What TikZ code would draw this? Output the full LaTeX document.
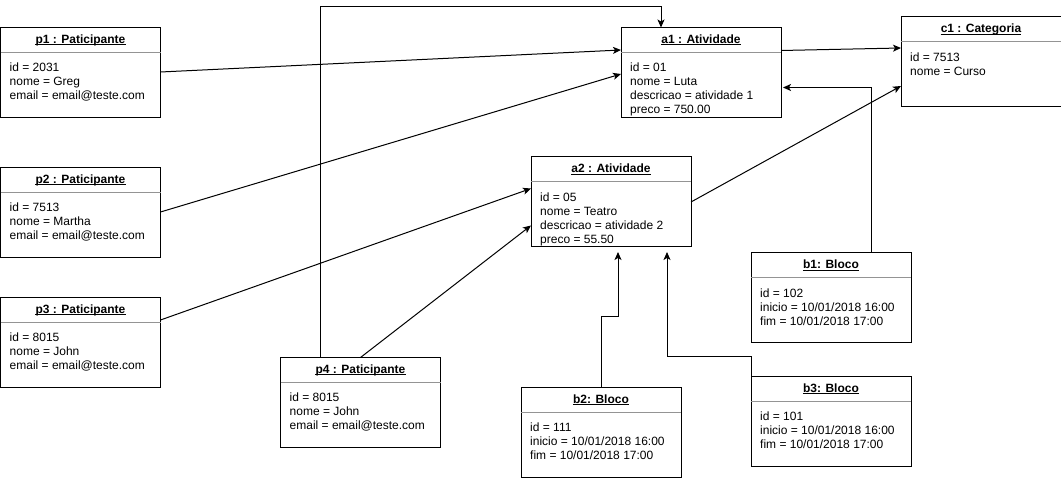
\documentclass[tikz,border=0pt]{standalone}
\usepackage{fontspec}
\setmainfont{Liberation Sans}
\usetikzlibrary{calc,arrows.meta}

\tikzset{
  objbox/.style={draw=black, line width=1pt, fill=white, minimum width=160pt,
    minimum height=90pt, inner sep=0pt, outer sep=0pt},
  divider/.style={draw=black!42, line width=1pt},
  objtitle/.style={inner sep=0pt, font=\fontsize{12}{14}\selectfont\bfseries},
  uline/.style={draw=black, line width=0.8pt},
  objattr/.style={inner sep=0pt, align=left, font=\fontsize{12}{14}\selectfont},
  conn/.style={draw=black, line width=1pt},
  tip/.style={-{Stealth[length=8pt,width=7pt,inset=2pt]}},
}

% UML object: name, top-left corner, title, attribute lines
% (every attribute list starts with "id =", whose top lies 8.75pt above its baseline)
\newcommand{\umlobj}[4]{%
  \node[objbox, anchor=north west] (#1) at (#2) {};
  \draw[divider] ($(#1.north west)+(0,25)$) -- ($(#1.north east)+(0,25)$);
  \node[objtitle, anchor=base] (#1-t) at ($(#1.north)+(0,16)$) {#3};
  \draw[uline] ($(#1-t.base west)+(0,1.3)$) -- ($(#1-t.base east)+(0,1.3)$);
  \node[objattr, anchor=north west] (#1-a) at ($(#1.north west)+(9,35.25)$) {#4};
}

\begin{document}
\begin{tikzpicture}[x=1pt, y=-1pt]
\useasboundingbox (0,0) rectangle (1061,478);

% participants
\umlobj{p1}{0.5,27.5}{p1 : Paticipante}{id = 2031\\nome = Greg\\email = email@teste.com}
\umlobj{p2}{0.5,167.5}{p2 : Paticipante}{id = 7513\\nome = Martha\\email = email@teste.com}
\umlobj{p3}{0.5,297.5}{p3 : Paticipante}{id = 8015\\nome = John\\email = email@teste.com}
\umlobj{p4}{280.5,357.5}{p4 : Paticipante}{id = 8015\\nome = John\\email = email@teste.com}

% activities and category
\umlobj{a1}{621,27.5}{a1 : Atividade}{id = 01\\nome = Luta\\descricao = atividade 1\\preco = 750.00}
\umlobj{a2}{531,157}{a2 : Atividade}{id = 05\\nome = Teatro\\descricao = atividade 2\\preco = 55.50}
\umlobj{c1}{901,17}{c1 : Categoria}{id = 7513\\nome = Curso}

% blocks
\umlobj{b1}{751,253}{b1: Bloco}{id = 102\\inicio = 10/01/2018 16:00\\fim = 10/01/2018 17:00}
\umlobj{b2}{521,387.5}{b2: Bloco}{id = 111\\inicio = 10/01/2018 16:00\\fim = 10/01/2018 17:00}
\umlobj{b3}{751,376.5}{b3: Bloco}{id = 101\\inicio = 10/01/2018 16:00\\fim = 10/01/2018 17:00}

% links
\draw[conn, tip] ($(p1.north east)+(0,44.5)$) -- ($(a1.north west)+(0,22.5)$);
\draw[conn, tip] ($(p2.north east)+(0,44.5)$) -- ($(a1.north west)+(0,46.5)$);
\draw[conn, tip] ($(p3.north east)+(0,22.5)$) -- ($(a2.north west)+(0,31.5)$);
\draw[conn, tip] (p4.north) -- ($(a2.north west)+(0,68.5)$);
\draw[conn, tip] ($(p4.north)+(-40,0)$) -- ++(0,-350.5) -| ($(a1.north)+(-40,0)$);
\draw[conn, tip] ($(a1.north east)+(0,23)$) -- ($(c1.north west)+(0,31)$);
\draw[conn, tip] ($(a2.north east)+(0,45)$) -- ($(c1.north west)+(0,69)$);
\draw[conn, tip] ($(b1.north)+(40,0)$) |- ($(a1.north east)+(2,60)$);
\draw[conn, tip] (b2.north) -- ++(0,-70.5) -| ($(a2.south)+(7,5)$);
\draw[conn, tip] (b3.north west) -- ++(0,-19.5) -| ($(a2.south)+(56,5)$);
\end{tikzpicture}
\end{document}
